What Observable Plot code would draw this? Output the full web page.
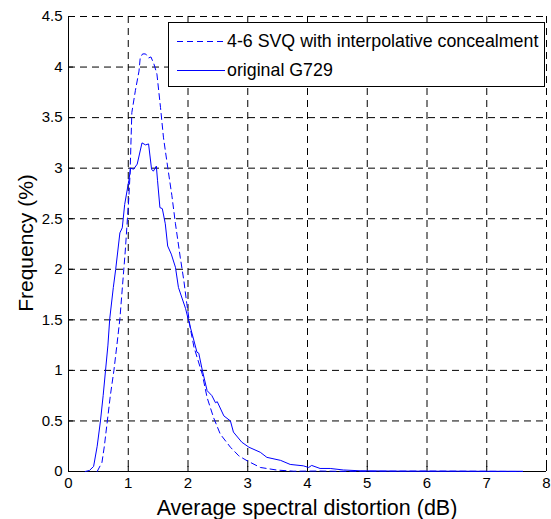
<!DOCTYPE html>
<html>
<head>
<meta charset="utf-8">
<script src="https://cdn.jsdelivr.net/npm/d3@7"></script>
<script src="https://cdn.jsdelivr.net/npm/@observablehq/plot@0.6"></script>
<style>
  html, body { margin: 0; padding: 0; background: #fff; }
  #chart { position: relative; width: 551px; height: 519px; }
</style>
</head>
<body>
<div id="chart"></div>
<script>
// Series: original G729 (solid)
const solidX = [0.28,0.35,0.42,0.48,0.535,0.58,0.62,0.66,0.69,0.75,0.79,0.86,0.90,0.94,1.01,1.04,1.09,1.15,1.23,1.29,1.34,1.39,1.42,1.47,1.49,1.53,1.57,1.62,1.66,1.72,1.79,1.84,1.96,2.01,2.07,2.15,2.18,2.24,2.32,2.40,2.46,2.49,2.60,2.71,2.76,2.90,3.02,3.21,3.32,3.55,3.71,3.93,4.02,4.07,4.21,4.38,4.6,4.88,5.5,6.0,6.5,7.0,7.6];
const solidY = [0,0.01,0.05,0.25,0.50,0.75,1.0,1.25,1.51,1.82,2.0,2.36,2.41,2.64,2.88,3.0,2.99,3.04,3.25,3.23,3.24,2.99,2.97,3.02,2.88,2.61,2.60,2.45,2.23,2.15,2.02,1.82,1.61,1.49,1.36,1.18,1.17,1.0,0.80,0.75,0.68,0.69,0.55,0.50,0.39,0.29,0.24,0.19,0.14,0.11,0.07,0.056,0.04,0.06,0.03,0.03,0.015,0.007,0.004,0.003,0.003,0.002,0.002];
// Series: 4-6 SVQ with interpolative concealment (dashed)
const dashX = [0.48,0.56,0.60,0.65,0.70,0.76,0.81,0.86,0.95,1.01,1.03,1.06,1.12,1.18,1.20,1.24,1.29,1.34,1.38,1.43,1.48,1.54,1.59,1.66,1.73,1.79,1.87,1.93,1.98,2.04,2.10,2.24,2.32,2.43,2.54,2.71,2.85,2.99,3.21,3.49,3.77,4.2,4.5,5.0,6.0,7.0,7.6];
const dashY = [0,0.09,0.25,0.5,0.75,1.0,1.25,1.51,2.18,2.71,2.94,3.55,3.77,3.96,4.09,4.13,4.13,4.09,4.10,4.03,3.93,3.60,3.30,3.01,2.73,2.45,2.12,1.89,1.66,1.41,1.23,0.96,0.73,0.53,0.37,0.24,0.155,0.106,0.04,0.014,0.003,0.005,0.002,0.002,0.004,0.002,0];
const seriesNames = ["4-6 SVQ with interpolative concealment", "original G729"];
const xTicks = [0,1,2,3,4,5,6,7,8];
const yTicks = [0,0.5,1,1.5,2,2.5,3,3.5,4,4.5];
const xLabel = "Average spectral distortion (dB)";
const yLabel = "Frequency (%)";

const solid = solidX.map((x, i) => ({x, y: solidY[i]}));
const dashed = dashX.map((x, i) => ({x, y: dashY[i]}));

const gridStyle = {stroke: "black", strokeWidth: 1, strokeDasharray: "7,5", strokeOpacity: 1};
const FONT = "'Liberation Sans', Arial, sans-serif";

const plot = Plot.plot({
  width: 551,
  height: 519,
  marginLeft: 68,
  marginRight: 5,
  marginTop: 16,
  marginBottom: 48,
  style: {fontFamily: FONT, fontSize: "15px", color: "black", background: "white"},
  x: {domain: [0, 8]},
  y: {domain: [0, 4.5]},
  marks: [
    Plot.ruleX(xTicks.filter(d => d > 0), gridStyle),
    Plot.ruleY(yTicks.filter(d => d > 0), gridStyle),
    Plot.ruleX([0], {stroke: "black"}),
    Plot.ruleY([0], {stroke: "black"}),
    Plot.axisX({ticks: xTicks, tickSize: -5, tickPadding: 11, label: null, fontSize: 15}),
    Plot.axisY({ticks: yTicks, tickSize: -5, tickPadding: 11, label: null, fontSize: 15, tickFormat: d => String(d)}),
    Plot.line(dashed, {x: "x", y: "y", stroke: "#0000ff", strokeWidth: 1, strokeDasharray: "6,4"}),
    Plot.line(solid, {x: "x", y: "y", stroke: "#0000ff", strokeWidth: 1})
  ]
});

const svg = d3.select(plot);
// Axis titles
svg.append("text")
  .attr("x", 307).attr("y", 515)
  .attr("text-anchor", "middle")
  .style("font-size", "21.5px").style("font-family", FONT)
  .attr("fill", "black")
  .text(xLabel);
svg.append("text")
  .attr("transform", "translate(33,243) rotate(-90)")
  .attr("text-anchor", "middle")
  .style("font-size", "21px").style("font-family", FONT)
  .attr("fill", "black")
  .text(yLabel);

// Legend
const lg = svg.append("g");
lg.append("rect").attr("x", 168.5).attr("y", 22.5).attr("width", 376).attr("height", 64)
  .attr("fill", "white").attr("stroke", "black").attr("stroke-width", 1);
const rows = [{name: seriesNames[0], dash: "6,4", y: 41}, {name: seriesNames[1], dash: null, y: 70}];
rows.forEach(r => {
  const l = lg.append("line").attr("x1", 177).attr("x2", 225).attr("y1", r.y + 0.5).attr("y2", r.y + 0.5)
    .attr("stroke", "#0000ff").attr("stroke-width", 1);
  if (r.dash) l.attr("stroke-dasharray", r.dash);
  lg.append("text").attr("x", 227).attr("y", r.y + 6)
    .attr("text-anchor", "start")
    .style("font-size", "17.8px").style("font-family", FONT)
    .attr("fill", "black").text(r.name);
});

document.getElementById("chart").appendChild(plot);
</script>
</body>
</html>
